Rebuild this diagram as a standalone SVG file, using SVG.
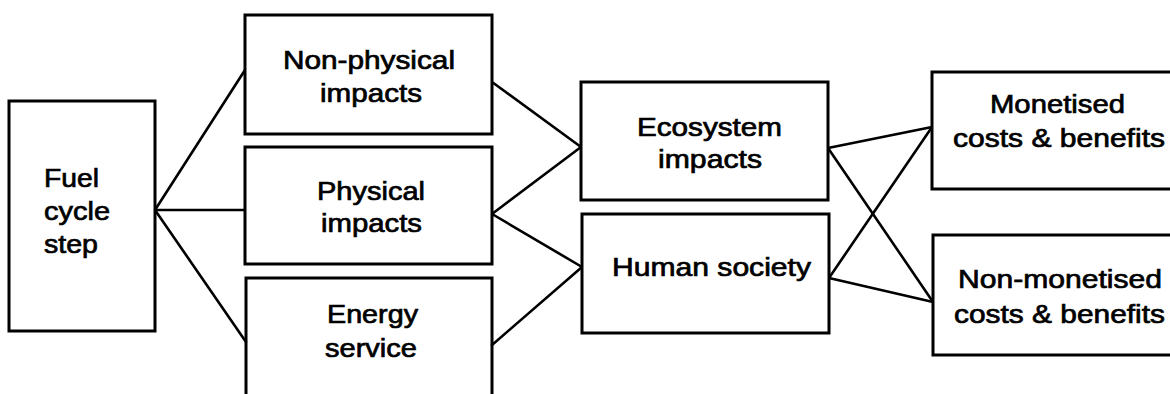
<svg xmlns="http://www.w3.org/2000/svg" width="1170" height="394" viewBox="0 0 1170 394">
  <style>
    .box { fill: #fff; stroke: #000; stroke-width: 3; }
    .open { fill: none; stroke: #000; stroke-width: 3; }
    .conn line { stroke: #000; stroke-width: 2.6; stroke-linecap: round; }
    text { font-family: "Liberation Sans", Arial, sans-serif; font-size: 26px; fill: #000; stroke: #000; stroke-width: 0.7; }
  </style>
  <rect width="1170" height="394" fill="#fff"/>
  <g id="connectors" class="conn">
    <line x1="155" y1="210" x2="245" y2="70"/>
    <line x1="155" y1="210" x2="245" y2="210"/>
    <line x1="155" y1="210" x2="246" y2="342"/>
    <line x1="492" y1="82" x2="581" y2="147"/>
    <line x1="492" y1="214" x2="581" y2="147"/>
    <line x1="492" y1="214" x2="582" y2="267"/>
    <line x1="492" y1="345" x2="582" y2="267"/>
    <line x1="828" y1="148" x2="932" y2="127"/>
    <line x1="828" y1="148" x2="933" y2="302"/>
    <line x1="829" y1="278" x2="932" y2="127"/>
    <line x1="829" y1="278" x2="933" y2="302"/>
  </g>
  <g id="fuel-cycle-step">
    <rect class="box" x="9" y="101" width="146" height="230"/>
    <text x="44" y="187" textLength="55" lengthAdjust="spacingAndGlyphs">Fuel</text>
    <text x="44" y="220" textLength="66" lengthAdjust="spacingAndGlyphs">cycle</text>
    <text x="44" y="253" textLength="54" lengthAdjust="spacingAndGlyphs">step</text>
  </g>
  <g id="non-physical-impacts">
    <rect class="box" x="245" y="15" width="247" height="119"/>
    <text x="283" y="69" textLength="172" lengthAdjust="spacingAndGlyphs">Non-physical</text>
    <text x="320" y="102" textLength="102" lengthAdjust="spacingAndGlyphs">impacts</text>
  </g>
  <g id="physical-impacts">
    <rect class="box" x="245" y="147" width="247" height="117"/>
    <text x="317" y="200" textLength="108" lengthAdjust="spacingAndGlyphs">Physical</text>
    <text x="321" y="232" textLength="101" lengthAdjust="spacingAndGlyphs">impacts</text>
  </g>
  <g id="energy-service">
    <path class="open" d="M246,396 V278 H492 V396"/>
    <text x="327" y="323" textLength="91" lengthAdjust="spacingAndGlyphs">Energy</text>
    <text x="325" y="357" textLength="92" lengthAdjust="spacingAndGlyphs">service</text>
  </g>
  <g id="ecosystem-impacts">
    <rect class="box" x="581" y="82" width="247" height="118"/>
    <text x="637" y="136" textLength="145" lengthAdjust="spacingAndGlyphs">Ecosystem</text>
    <text x="658" y="168" textLength="104" lengthAdjust="spacingAndGlyphs">impacts</text>
  </g>
  <g id="human-society">
    <rect class="box" x="582" y="214" width="247" height="119"/>
    <text x="612" y="276" textLength="199" lengthAdjust="spacingAndGlyphs">Human society</text>
  </g>
  <g id="monetised">
    <rect class="box" x="932" y="72" width="260" height="117"/>
    <text x="990" y="113" textLength="135" lengthAdjust="spacingAndGlyphs">Monetised</text>
    <text x="953" y="147" textLength="212" lengthAdjust="spacingAndGlyphs">costs &amp; benefits</text>
  </g>
  <g id="non-monetised">
    <rect class="box" x="933" y="235" width="260" height="120"/>
    <text x="958" y="288" textLength="204" lengthAdjust="spacingAndGlyphs">Non-monetised</text>
    <text x="954" y="323" textLength="211" lengthAdjust="spacingAndGlyphs">costs &amp; benefits</text>
  </g>
</svg>
